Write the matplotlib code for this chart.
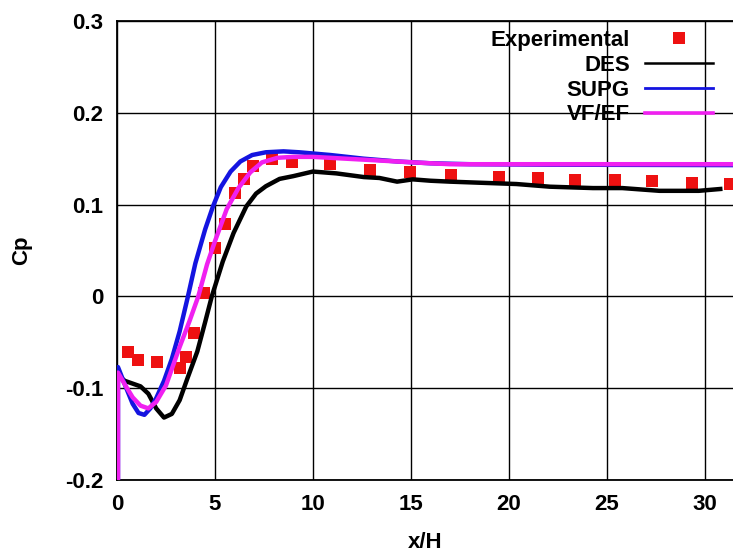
import matplotlib
matplotlib.use("Agg")
import matplotlib.pyplot as plt
from matplotlib.font_manager import FontProperties

# Experimental pressure coefficient
exp_x = [0.58, 1.09, 2.06, 3.2, 3.5, 3.95, 4.46, 5.0, 5.52, 6.05, 6.47, 6.95,
         7.9, 8.95, 10.88, 12.94, 14.98, 17.06, 19.5, 21.5, 23.36, 25.43,
         27.34, 29.38, 31.3]
exp_y = [-0.061, -0.069, -0.072, -0.078, -0.066, -0.040, 0.004, 0.053, 0.079,
         0.113, 0.128, 0.142, 0.150, 0.146, 0.1445, 0.138, 0.136, 0.132, 0.130,
         0.129, 0.127, 0.127, 0.126, 0.124, 0.122]

# DES
des_x = [0.0, 0.4, 0.8, 1.2, 1.6, 2.0, 2.4, 2.8, 3.2, 3.6, 4.1, 4.5, 4.84,
         5.4, 5.95, 6.6, 7.1, 7.6, 8.3, 9.0, 10.0, 11.2, 12.6, 13.4, 14.3,
         15.1, 16.0, 17.0, 18.3, 20.4, 22.1, 24.3, 25.8, 27.7, 29.7, 30.8]
des_y = [-0.085, -0.092, -0.095, -0.098, -0.106, -0.122, -0.132, -0.128,
         -0.113, -0.089, -0.060, -0.028, 0.0, 0.038, 0.069, 0.098, 0.112,
         0.120, 0.128, 0.131, 0.136, 0.134, 0.130, 0.129, 0.125, 0.1275,
         0.126, 0.125, 0.124, 0.1224, 0.1195, 0.118, 0.118, 0.115, 0.115,
         0.117]

# SUPG
supg_x = [0.05, 0.05, 0.4, 0.8, 1.1, 1.4, 1.7, 2.0, 2.4, 2.8, 3.2, 3.6, 4.0,
          4.5, 4.9, 5.3, 5.8, 6.3, 6.9, 7.6, 8.5, 9.3, 10.9, 12.6, 14.3, 16.0,
          18.0, 22.0, 32.0]
supg_y = [-0.25, -0.077, -0.096, -0.117, -0.127, -0.129, -0.122, -0.111,
          -0.092, -0.068, -0.038, -0.002, 0.036, 0.073, 0.098, 0.119, 0.136,
          0.147, 0.154, 0.157, 0.158, 0.157, 0.154, 0.150, 0.147, 0.145,
          0.144, 0.1435, 0.143]

# VF/EF
vfef_x = [0.05, 0.05, 0.4, 0.8, 1.2, 1.6, 2.0, 2.5, 3.2, 3.7, 4.15, 4.6, 5.0,
          5.6, 6.2, 6.8, 7.4, 8.2, 9.0, 10.0, 11.7, 13.4, 15.1, 17.0, 20.0,
          32.0]
vfef_y = [-0.25, -0.083, -0.096, -0.110, -0.119, -0.122, -0.115, -0.097,
          -0.055, -0.027, 0.0, 0.035, 0.060, 0.095, 0.118, 0.135, 0.146,
          0.151, 0.152, 0.152, 0.150, 0.148, 0.146, 0.144, 0.144, 0.144]

x_ticks = [0, 5, 10, 15, 20, 25, 30]
y_ticks = [-0.2, -0.1, 0.0, 0.1, 0.2, 0.3]
y_tick_labels = ["-0.2", "-0.1", "0", "0.1", "0.2", "0.3"]

font = FontProperties(family="Liberation Sans", weight="bold", size=16)

W, H = 733, 555
fig = plt.figure(figsize=(W / 100, H / 100), dpi=100)
ax = fig.add_axes([117 / W, 1 - 480 / H, 616 / W, 459 / H])

ax.plot(exp_x, exp_y, linestyle="none", marker="s", markersize=8,
        color="#ee1111", markeredgewidth=0, label="Experimental", zorder=3)
ax.plot(des_x, des_y, color="black", lw=3.2, label="DES", zorder=4)
ax.plot(supg_x, supg_y, color="#1414e0", lw=3.2, label="SUPG", zorder=5)
ax.plot(vfef_x, vfef_y, color="#f020f0", lw=3.2, label="VF/EF", zorder=6)

ax.set_xlim(0, 31.45)
ax.set_ylim(-0.2, 0.3)
ax.set_xticks(x_ticks)
ax.set_xticklabels([str(t) for t in x_ticks])
ax.set_yticks(y_ticks)
ax.set_yticklabels(y_tick_labels)
for lab in ax.get_xticklabels() + ax.get_yticklabels():
    lab.set_fontproperties(font)
ax.tick_params(length=0, pad=10)

ax.grid(True, color="black", lw=1.0)
ax.set_axisbelow(True)
ax.spines["right"].set_visible(False)
for s in ("left", "top", "bottom"):
    ax.spines[s].set_linewidth(1.3)

ax.set_xlabel("x/H", fontproperties=font)
ax.xaxis.set_label_coords(0.5, -(543 - 480) / 459)
ax.xaxis.label.set_va("center")
ax.set_ylabel("Cp", fontproperties=font)
ax.yaxis.set_label_coords(-(117 - 22) / 616, 0.5)
ax.yaxis.label.set_va("center")

leg = ax.legend(loc="upper right", bbox_to_anchor=(713 / W, 1 - 30 / H),
                bbox_transform=fig.transFigure, frameon=False,
                markerfirst=False, numpoints=1, handlelength=3.06,
                handletextpad=0.68, labelspacing=0.17, borderpad=0,
                borderaxespad=0, prop=font)
for ln, w in zip(leg.get_lines(), [0, 1.8, 2.0, 2.6]):
    if w:
        ln.set_linewidth(w)

fig.savefig("out.png", dpi=100)
